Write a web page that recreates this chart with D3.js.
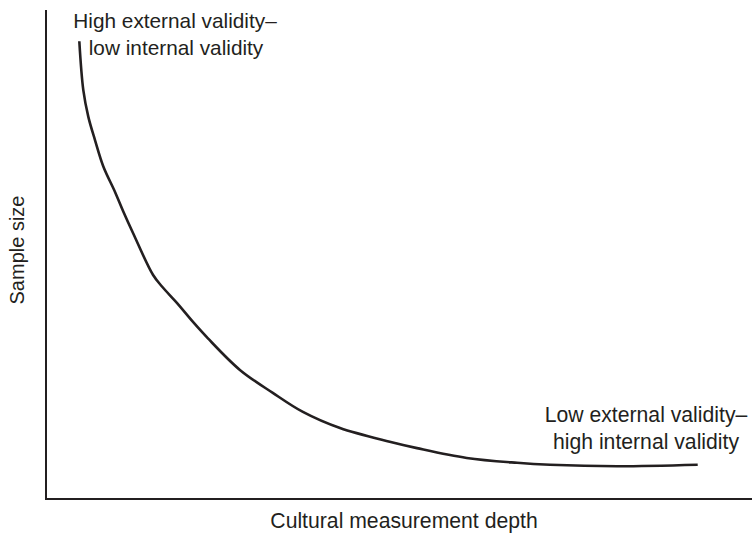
<!DOCTYPE html>
<html>
<head>
<meta charset="utf-8">
<script src="https://cdn.jsdelivr.net/npm/d3@7"></script>
<style>
  html, body { margin: 0; padding: 0; background: #fff; }
  svg { display: block; }
  text { font-family: "Liberation Sans", Arial, Helvetica, sans-serif; fill: #231f20; }
</style>
</head>
<body>
<svg id="chart" width="752" height="536"></svg>
<script>
// Cultural measurement depth (x, arbitrary 0-100) vs sample size (y, arbitrary 0-100)
const depth = [4.76, 5.33, 6.04, 7.0, 8.19, 9.86, 11.04, 12.43, 15.3, 16.6, 18.7, 21.0, 23.1, 27.7, 32.4, 36.7, 42.0, 49.1, 53.0, 60.1, 67.3, 72.0, 81.6, 93.1];
const sampleSize = [93.6, 83.6, 78.2, 73.4, 68.0, 62.8, 58.8, 54.4, 45.8, 43.4, 40.1, 36.2, 32.9, 26.4, 21.7, 17.8, 14.5, 11.7, 10.4, 8.4, 7.4, 7.0, 6.7, 7.0];
const topLabel = ["High external validity–", "low internal validity"];
const bottomLabel = ["Low external validity–", "high internal validity"];
const xTitle = "Cultural measurement depth";
const yTitle = "Sample size";

const svg = d3.select("#chart");
const x = d3.scaleLinear().domain([0, 100]).range([46, 746]);
const y = d3.scaleLinear().domain([0, 100]).range([499, 10]);

// axes (lines only, no ticks)
svg.append("line").attr("x1", x(0)).attr("x2", x(0)).attr("y1", y(100)).attr("y2", y(0))
  .attr("stroke", "#231f20").attr("stroke-width", 2);
svg.append("line").attr("x1", x(0) - 1).attr("x2", 752).attr("y1", y(0)).attr("y2", y(0))
  .attr("stroke", "#231f20").attr("stroke-width", 2);

const pts = depth.map((d, i) => [d, sampleSize[i]]);
const line = d3.line().x(d => x(d[0])).y(d => y(d[1])).curve(d3.curveCatmullRom.alpha(0.5));
svg.append("path").attr("d", line(pts)).attr("fill", "none")
  .attr("stroke", "#231f20").attr("stroke-width", 2.6).attr("stroke-linecap", "butt");

const t1 = svg.append("text").attr("text-anchor", "middle").attr("font-size", 20.8);
t1.append("tspan").attr("x", 175).attr("y", 28).text(topLabel[0]);
t1.append("tspan").attr("x", 176).attr("y", 55).text(topLabel[1]);

const t2 = svg.append("text").attr("text-anchor", "middle").attr("font-size", 21.2);
t2.append("tspan").attr("x", 646).attr("y", 422).text(bottomLabel[0]);
t2.append("tspan").attr("x", 646).attr("y", 449).text(bottomLabel[1]);

svg.append("text").attr("text-anchor", "middle").attr("font-size", 21.2)
  .attr("x", 404).attr("y", 528).text(xTitle);

svg.append("text").attr("text-anchor", "middle").attr("font-size", 20)
  .attr("transform", "translate(24,250) rotate(-90)").text(yTitle);
</script>
</body>
</html>
